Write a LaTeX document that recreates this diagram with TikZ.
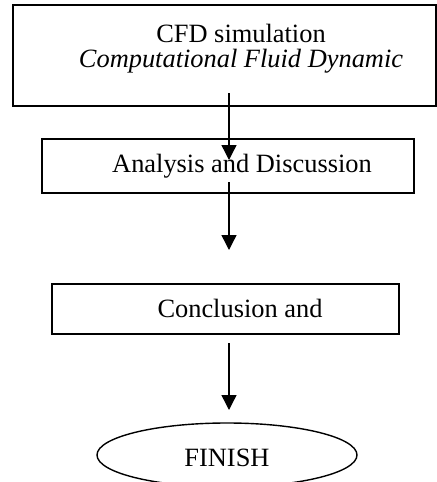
\documentclass[tikz,border=0pt]{standalone}
\usepackage{fontspec}
\setmainfont{Liberation Serif}
\usetikzlibrary{arrows.meta,shapes.geometric}

\tikzset{
  box/.style={draw, rectangle, line width=0.85pt, inner sep=0pt},
  txt/.style={inner sep=0pt, align=center, font=\fontsize{13.2}{12.5}\selectfont},
  flow/.style={line width=0.7pt, -{Triangle[length=7.5pt,width=7.5pt]}}
}

\begin{document}
\begin{tikzpicture}[x=0.5pt,y=-0.5pt]
\useasboundingbox (0,0) rectangle (437,482);
\clip (0,0) rectangle (437,482);

\node[box, line width=1pt, minimum width=211.5pt, minimum height=50.5pt] (cfd) at (224.5,55.5) {};
\node[txt, anchor=north] (cfdtxt) at (241,24) {CFD simulation\\\textit{Computational Fluid Dynamic}};

\node[box, minimum width=186pt, minimum height=27pt] (analysis) at (228,166) {};
\node[txt, anchor=base] (analysistxt) at (242,172) {Analysis and Discussion};

\node[box, minimum width=173.5pt, minimum height=25pt] (concl) at (225.5,309) {};
\node[txt, anchor=base] (concltxt) at (240,317) {Conclusion and};

\node[draw, ellipse, line width=0.7pt, inner sep=0pt, minimum width=130pt, minimum height=32pt,
      text height=11.7pt, text depth=0pt,
      font=\fontsize{13.2}{12.5}\selectfont] (finish) at (227,455) {FINISH};

\coordinate (a1s) at (229,93);
\coordinate (a1e) at (229,160);
\coordinate (a2s) at (229,182);
\coordinate (a2e) at (229,250);
\coordinate (a3s) at (229,343);
\coordinate (a3e) at (229,410);
\draw[flow] (a1s) -- (a1e);
\draw[flow] (a2s) -- (a2e);
\draw[flow] (a3s) -- (a3e);

\end{tikzpicture}
\end{document}
